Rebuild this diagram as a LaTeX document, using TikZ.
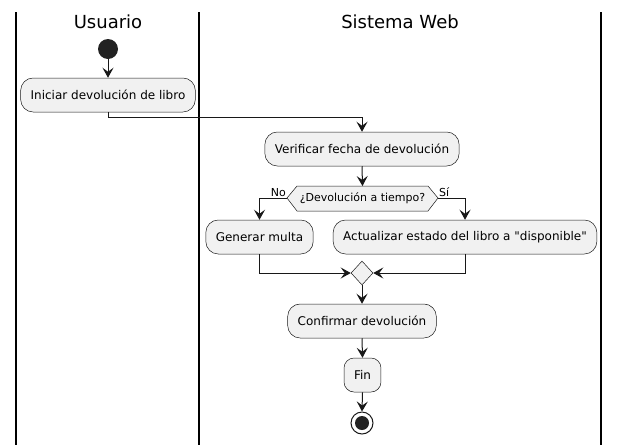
\documentclass[tikz,border=0pt]{standalone}
\usepackage{fontspec}
\setmainfont{DejaVu Sans}[Ligatures=TeXOff]
\usetikzlibrary{arrows.meta,shapes.geometric}
\definecolor{boxfill}{HTML}{F1F1F1}
\definecolor{boxline}{HTML}{181818}
\definecolor{dot}{HTML}{222222}
\tikzset{
  actbox/.style={draw=boxline,fill=boxfill,line width=0.5pt,rounded corners=12.5pt,
    minimum height=34pt,inner xsep=10pt,inner ysep=0pt,font=\fontsize{12pt}{14pt}\selectfont,anchor=center},
  flow/.style={draw=boxline,line width=1pt,-{Stealth[length=10pt,width=11pt,inset=4pt]}},
  lane/.style={draw=black,line width=1.5pt},
  lanehead/.style={font=\fontsize{18pt}{21pt}\selectfont},
  small/.style={font=\fontsize{11pt}{13pt}\selectfont,inner sep=1pt},
}
\begin{document}
\begin{tikzpicture}[x=1pt,y=-1pt]
\useasboundingbox (0,0) rectangle (620,445);
% lanes
\coordinate (l1t) at (16,12); \coordinate (l1b) at (16,445);
\coordinate (l2t) at (199,12); \coordinate (l2b) at (199,445);
\coordinate (l3t) at (601,12); \coordinate (l3b) at (601,445);
\draw[lane] (l1t) -- (l1b);
\draw[lane] (l2t) -- (l2b);
\draw[lane] (l3t) -- (l3b);
\node[lanehead] (h1) at (108,22) {Usuario};
\node[lanehead] (h2) at (400,22) {Sistema Web};
% start
\node[circle,fill=dot,minimum size=20pt,inner sep=0pt] (start) at (108,49) {};
\node[actbox] (a1) at (108,95) {Iniciar devolución de libro};
\node[actbox] (a2) at (362,149) {Verificar fecha de devolución};
% decision hexagon
\coordinate (dl) at (287,198);
\coordinate (dr) at (438,198);
\coordinate (dt) at (362.5,186);
\coordinate (db) at (362.5,211);
\draw[draw=boxline,fill=boxfill,line width=0.5pt] (dl) -- (297,186) -- (428,186) -- (dr) -- (428,211) -- (297,211) -- cycle;
\node[small] (dtext) at (362.5,198) {¿Devolución a tiempo?};
\node[small,anchor=south east] (no) at (287,198) {No};
\node[small,anchor=south west] (si) at (438,198) {Sí};
\node[actbox] (a3) at (259.5,237) {Generar multa};
\node[actbox] (a4) at (465,237) {Actualizar estado del libro a "disponible"};
% merge
\node[diamond,draw=boxline,fill=boxfill,line width=0.5pt,minimum width=22pt,minimum height=24pt,inner sep=0pt,aspect=0.9] (m) at (362,273) {};
\node[actbox] (a5) at (362,321) {Confirmar devolución};
\node[actbox,rounded corners=10pt] (a6) at (362.5,375) {Fin};
% end
\node[circle,draw=boxline,fill=white,line width=1pt,minimum size=22pt,inner sep=0pt] (endo) at (362,423) {};
\node[circle,fill=dot,minimum size=14pt,inner sep=0pt] (endi) at (endo.center) {};
% flows
\draw[flow] (start) -- (a1);
\coordinate (e1) at (108,117);
\coordinate (e2) at (362,117);
\draw[flow] (a1.south) -- (e1) -- (e2) -- (a2.north);
\draw[flow] (a2.south) -- (dt);
\draw[flow] (dl) -| (a3.north);
\draw[flow] (dr) -| (a4.north);
\draw[flow] (a3.south) |- (m.west);
\draw[flow] (a4.south) |- (m.east);
\draw[flow] (m.south) -- (a5.north);
\draw[flow] (a5.south) -- (a6.north);
\draw[flow] (a6.south) -- (endo.north);
\end{tikzpicture}
\end{document}
